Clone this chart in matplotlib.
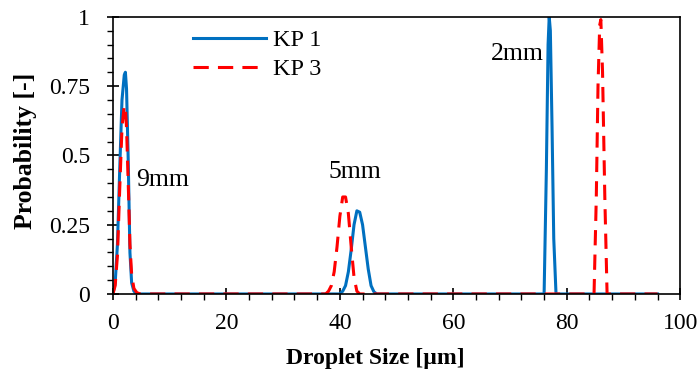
import matplotlib
matplotlib.use("Agg")
import matplotlib.pyplot as plt
from matplotlib.ticker import MultipleLocator

plt.rcParams['font.family'] = ['Liberation Serif', 'DejaVu Serif']

# KP 1 (blue, solid)
kp1_x = [0, 0.4, 0.8, 1.2, 1.6, 2.0, 2.2, 2.4, 2.7, 3.0, 3.3, 3.7, 4.2,
         40.0, 40.5, 41.0, 41.5, 42.0, 42.5, 43.0, 43.5, 44.0, 44.5, 45.0, 45.5, 46.0, 46.5,
         76.0, 76.4, 76.7, 76.9, 77.1, 77.4, 77.7, 78.1, 96.0]
kp1_y = [0, 0.04, 0.18, 0.45, 0.70, 0.79, 0.80, 0.74, 0.48, 0.15, 0.04, 0.01, 0,
         0, 0.01, 0.03, 0.08, 0.16, 0.25, 0.30, 0.295, 0.25, 0.17, 0.09, 0.03, 0.008, 0,
         0, 0.45, 0.90, 1.0, 0.95, 0.60, 0.20, 0, 0]

# KP 3 (red, dashed)
kp3_x = [0, 0.4, 0.8, 1.2, 1.6, 2.0, 2.2, 2.4, 2.7, 3.0, 3.3, 3.7, 4.2, 4.8,
         37.5, 38.0, 38.5, 39.0, 39.5, 40.0, 40.5, 41.0, 41.5, 42.0, 42.5, 43.0, 43.5,
         84.8, 85.2, 85.5, 85.8, 86.0, 86.3, 86.7, 87.1, 96.0]
kp3_y = [0, 0.03, 0.14, 0.38, 0.60, 0.68, 0.67, 0.60, 0.40, 0.18, 0.07, 0.02, 0.005, 0,
         0, 0.01, 0.03, 0.08, 0.17, 0.28, 0.35, 0.35, 0.29, 0.17, 0.06, 0.01, 0,
         0, 0.35, 0.75, 0.97, 0.99, 0.80, 0.35, 0, 0]

annotations = [("9mm", 8.8, 0.41), ("5mm", 42.7, 0.44), ("2mm", 71.3, 0.865)]

fig = plt.figure(figsize=(6.97, 3.74), dpi=100)
ax = fig.add_axes([0.162, 0.214, 0.814, 0.741])

ax.plot(kp1_x, kp1_y, color='#0070C0', lw=2.2, label='KP 1')
ax.plot(kp3_x, kp3_y, color='#FF0000', lw=2.2, ls=(0, (5, 3)), label='KP 3')

for t, x, y in annotations:
    ax.text(x, y, t, fontsize=18.5, ha='center', va='center')

ax.set_xlim(0, 100)
ax.set_ylim(0, 1)
ax.xaxis.set_major_locator(MultipleLocator(20))
ax.xaxis.set_minor_locator(MultipleLocator(4))
ax.yaxis.set_minor_locator(MultipleLocator(0.05))
ax.set_yticks([0, 0.25, 0.5, 0.75, 1])
ax.set_yticklabels(['0', '0.25', '0.5', '0.75', '1'])
ax.tick_params(which='major', direction='inout', length=9, width=1.2, labelsize=17, pad=9)
ax.tick_params(axis='y', which='major', pad=12)
ax.tick_params(which='minor', direction='out', length=4, width=1.0)
ax.tick_params(top=False, right=False, which='both')
for s in ax.spines.values():
    s.set_linewidth(1.2)

ax.set_xlabel('Droplet Size [µm]', fontsize=17, fontweight='bold')
ax.set_ylabel('Probability [-]', fontsize=18.5, fontweight='bold')
ax.xaxis.set_label_coords(0.462, -0.195)
ax.yaxis.set_label_coords(-0.134, 0.516)

ax.legend(loc='upper left', bbox_to_anchor=(0.103, 1.035), frameon=False, fontsize=17.5,
          handlelength=3.0, handletextpad=0.3, labelspacing=0.3)

fig.savefig('out.png', dpi=100)
